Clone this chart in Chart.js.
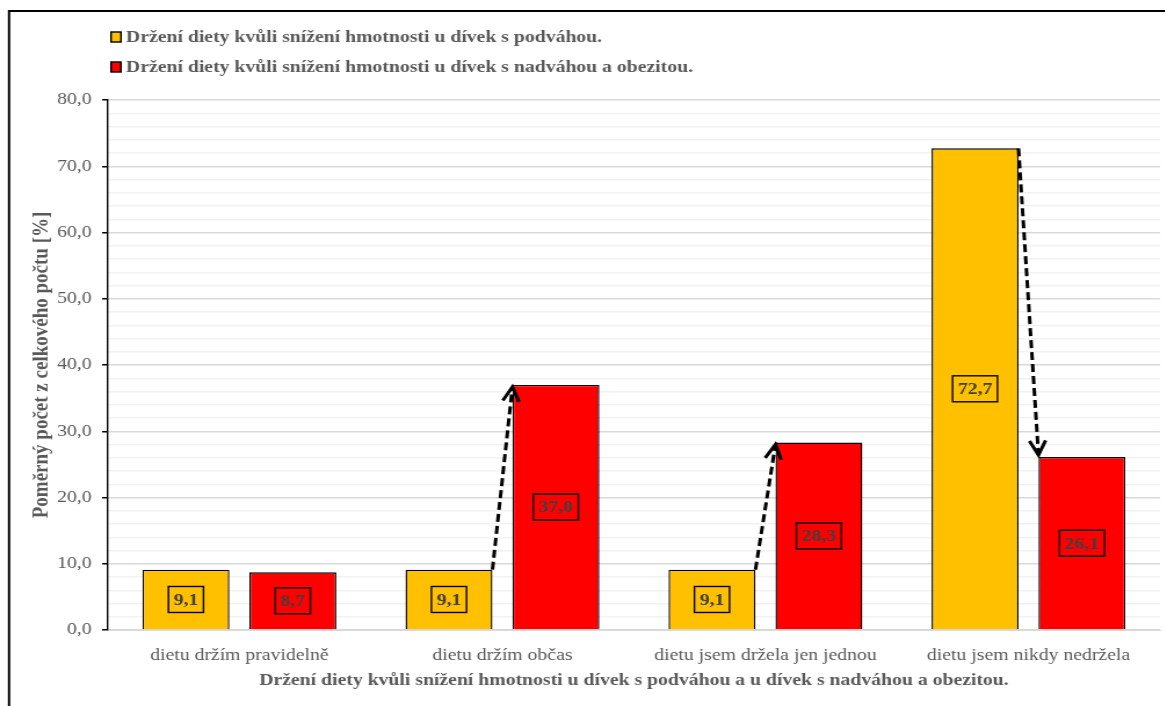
<!DOCTYPE html>
<html>
<head>
<meta charset="utf-8">
<script src="https://cdn.jsdelivr.net/npm/chart.js@4.4.1/dist/chart.umd.min.js"></script>
<style>
  html, body { margin: 0; padding: 0; background: #fff; overflow: hidden; }
  #wrap { width: 1165px; height: 706px; overflow: hidden; }
  /* platno je o neco uzsi a roztahuje se do sirky, pismo pak vychazi sirsi */
  #graf { transform: scaleX(1.16); transform-origin: 0 0; }
</style>
</head>
<body>
<div id="wrap"><canvas id="graf" width="1004" height="706" style="width:1004px;height:706px"></canvas></div>
<script>
// kategorie a hodnoty v procentech
const kategorie = ["dietu držím pravidelně", "dietu držím občas", "dietu jsem držela jen jednou", "dietu jsem nikdy nedržela"];
const podvaha = [9.1, 9.1, 9.1, 72.7];
const nadvaha = [8.7, 37.0, 28.3, 26.1];
const nazvyRad = ["Držení diety kvůli snížení hmotnosti u dívek s podváhou.", "Držení diety kvůli snížení hmotnosti u dívek s nadváhou a obezitou."];
const barvy = ["#ffc000", "#ff0000"];
// u kterych kategorii se kresli sipka ze zlute na cervenou
const sipky = [1, 2, 3];

const pismo = "'Liberation Serif', 'Times New Roman', serif";
const seda = "#595959";

function carka(v) {
    return v.toFixed(1).replace(".", ",");
}

// ramecek kolem celeho obrazku
const ramecek = {
    id: "ramecek",
    beforeDraw(chart) {
        let c = chart.ctx;
        c.save();
        c.strokeStyle = "#000";
        c.lineWidth = 2;
        c.beginPath();
        c.moveTo(7.8, 720);
        c.lineTo(7.8, 11);
        c.lineTo(1020, 11);
        c.stroke();
        c.restore();
    }
};

// legenda pod sebou vlevo nahore
const legenda = {
    id: "legenda",
    afterDraw(chart) {
        let c = chart.ctx;
        c.save();
        c.font = "bold 17px " + pismo;
        c.textBaseline = "middle";
        chart.data.datasets.forEach((ds, i) => {
            let y = 37 + i * 30;
            c.fillStyle = ds.backgroundColor;
            c.fillRect(95.7, y - 5, 8.6, 10);
            c.strokeStyle = "#000";
            c.lineWidth = 1.4;
            c.strokeRect(95.7, y - 5, 8.6, 10);
            c.fillStyle = seda;
            c.fillText(ds.label, 108.6, y + 1);
        });
        c.restore();
    }
};

// popisky hodnot v ramecku uprostred sloupcu
const popisky = {
    id: "popisky",
    afterDatasetsDraw(chart) {
        let c = chart.ctx;
        c.save();
        c.font = "bold 17px " + pismo;
        c.textAlign = "center";
        c.textBaseline = "middle";
        chart.data.datasets.forEach((ds, di) => {
            chart.getDatasetMeta(di).data.forEach((bar, i) => {
                let txt = carka(ds.data[i]);
                let w = c.measureText(txt).width + 9;
                let h = 26;
                let cy = (bar.y + bar.base) / 2;
                c.strokeStyle = "#000";
                c.lineWidth = 1.4;
                c.strokeRect(bar.x - w / 2, cy - h / 2, w, h);
                c.fillStyle = "#404040";
                c.fillText(txt, bar.x, cy + 1);
            });
        });
        c.restore();
    }
};

// prerusovane sipky od zluteho k cervenemu sloupci
const sipkyPlugin = {
    id: "sipky",
    afterDatasetsDraw(chart) {
        let c = chart.ctx;
        let m0 = chart.getDatasetMeta(0).data;
        let m1 = chart.getDatasetMeta(1).data;
        c.save();
        c.strokeStyle = "#000";
        c.lineWidth = 3;
        sipky.forEach(i => {
            let a = m0[i], b = m1[i];
            let x1 = a.x + a.width / 2, y1 = a.y;
            let x2 = b.x - b.width / 2, y2 = b.y + (b.y > a.y ? -2 : 2);
            c.setLineDash([8, 4]);
            c.beginPath();
            c.moveTo(x1, y1);
            c.lineTo(x2, y2);
            c.stroke();
            let ang = Math.atan2(y2 - y1, x2 - x1);
            let d = 16;
            c.setLineDash([]);
            c.beginPath();
            c.moveTo(x2 - d * Math.cos(ang - 0.45), y2 - d * Math.sin(ang - 0.45));
            c.lineTo(x2, y2);
            c.lineTo(x2 - d * Math.cos(ang + 0.45), y2 - d * Math.sin(ang + 0.45));
            c.stroke();
        });
        c.restore();
    }
};

new Chart(document.getElementById("graf"), {
    type: "bar",
    data: {
        labels: kategorie,
        datasets: [
            { label: nazvyRad[0], data: podvaha, backgroundColor: barvy[0], borderColor: "#000", borderWidth: 1.4 },
            { label: nazvyRad[1], data: nadvaha, backgroundColor: barvy[1], borderColor: "#000", borderWidth: 1.4 }
        ]
    },
    options: {
        responsive: false,
        animation: false,
        events: [],
        layout: { padding: { top: 100, right: 4, left: 0, bottom: 0 } },
        datasets: { bar: { categoryPercentage: 0.813, barPercentage: 0.813 } },
        plugins: {
            legend: { display: false },
            tooltip: { enabled: false }
        },
        scales: {
            x: {
                afterFit: s => { s.height = 76; },
                grid: { display: false },
                border: { color: "#d9d9d9" },
                ticks: { color: seda, font: { family: pismo, size: 17 }, padding: 7 },
                title: {
                    display: true,
                    text: "Držení diety kvůli snížení hmotnosti u dívek s podváhou a u dívek s nadváhou a obezitou.",
                    color: seda,
                    font: { family: pismo, size: 17, weight: "bold" },
                    padding: { top: 0, bottom: 15 }
                }
            },
            y: {
                min: 0,
                max: 80,
                afterFit: s => { s.width = 93; },
                ticks: {
                    stepSize: 2,
                    autoSkip: false,
                    color: seda,
                    font: { family: pismo, size: 17 },
                    padding: 9,
                    callback: v => (v % 10 === 0 ? carka(v) : "")
                },
                grid: {
                    color: ctx => (ctx.tick && ctx.tick.value % 10 === 0 ? "#d9d9d9" : "#f2f2f2"),
                    tickColor: ctx => (ctx.tick && ctx.tick.value % 10 === 0 ? "#000" : "rgba(0,0,0,0)"),
                    tickLength: 5,
                    lineWidth: 1.5
                },
                border: { color: "#000", width: 1.4 },
                title: {
                    display: true,
                    text: "Poměrný počet z celkového počtu [%]",
                    color: seda,
                    font: { family: pismo, size: 19, weight: "bold" },
                    padding: { top: 25, bottom: 0 }
                }
            }
        }
    },
    plugins: [ramecek, legenda, popisky, sipkyPlugin]
});
</script>
</body>
</html>
